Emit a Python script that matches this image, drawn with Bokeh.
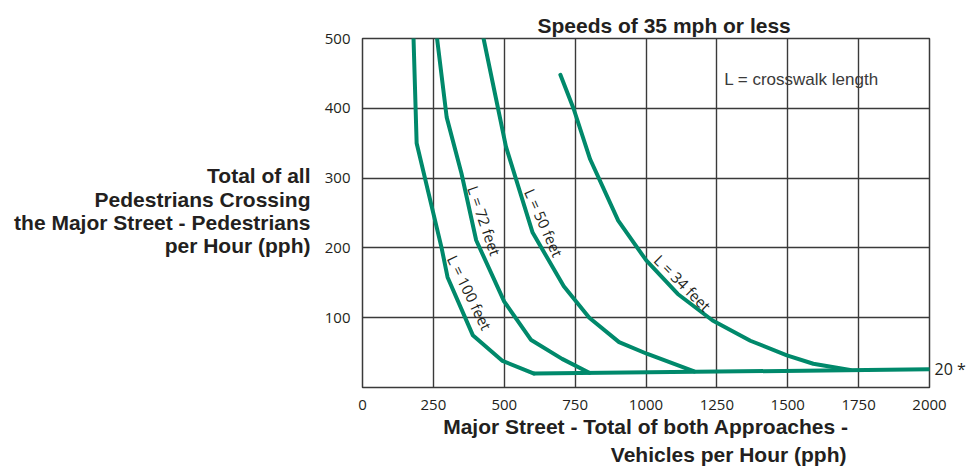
import math
from bokeh.plotting import figure
from bokeh.layouts import row
from bokeh.models import FixedTicker, Label, Title, LinearAxis, Range1d
from bokeh.core.properties import value
from bokeh.embed import file_html
from bokeh.resources import INLINE

# ---- data ----
x_ticks = [0, 250, 500, 750, 1000, 1250, 1500, 1750, 2000]
y_ticks = [100, 200, 300, 400, 500]

l100_x = [180, 191, 279, 300, 389, 494, 605]
l100_y = [500, 350, 200, 158, 75, 38, 20]

l72_x = [263, 297, 349, 401, 500, 595, 704, 800]
l72_y = [500, 387, 307, 211, 123, 68, 41, 21]

l50_x = [427, 506, 600, 710, 800, 905, 1005, 1170]
l50_y = [500, 345, 222, 145, 100, 65, 48, 23]

l34_x = [698, 745, 803, 902, 1001, 1112, 1235, 1368, 1497, 1590, 1720]
l34_y = [448, 399, 327, 239, 182, 134, 96, 67, 46, 34, 25]

floor_x = [605, 2000]
floor_y = [20, 26]

curve_names = ["L = 100 feet", "L = 72 feet", "L = 50 feet", "L = 34 feet"]
curve_label_x = [378, 430, 640, 1129]
curve_label_y = [136, 239, 236, 150]
curve_label_angle = [-64, -71, -66, -45]

title_text = "Speeds of 35 mph or less"
y_title_lines = ["Total of all", "Pedestrians Crossing",
                 "the Major Street - Pedestrians", "per Hour (pph)"]
x_title_lines = ["Major Street - Total of both Approaches -",
                 "Vehicles per Hour (pph)"]
note_text = "L = crosswalk length"
floor_text = "20 *"

GREEN = "#00896B"
GRID = "#3a3a3a"
TEXT = "#231f20"
H = 469
TOP, BOTTOM = 38, 82

# ---- left panel holding the horizontal y-axis title ----
LW = 320
left = figure(width=LW, height=H, x_range=Range1d(0, LW), y_range=Range1d(0, 500),
              output_backend="svg", toolbar_location=None,
              x_axis_location=None, y_axis_location=None,
              min_border_left=0, min_border_right=0,
              min_border_top=TOP, min_border_bottom=BOTTOM)
left.outline_line_color = None
left.grid.visible = False
left.text(x=[310] * len(y_title_lines), y=[304, 270, 237, 204],
          text=y_title_lines, text_align="right", text_baseline="alphabetic",
          text_font=value("Liberation Sans"), text_font_style="bold",
          text_font_size="21px", text_color=TEXT)

# ---- main chart ----
p = figure(width=968 - LW, height=H, x_range=(0, 2000), y_range=(0, 500),
           output_backend="svg", toolbar_location=None,
           min_border_left=362 - LW, min_border_right=34,
           min_border_top=TOP, min_border_bottom=BOTTOM)
p.background_fill_color = "white"
p.border_fill_color = "white"
p.outline_line_color = GRID
p.outline_line_width = 1.5

p.xaxis.ticker = FixedTicker(ticks=x_ticks)
p.yaxis.ticker = FixedTicker(ticks=y_ticks)

right_axis = LinearAxis(ticker=FixedTicker(ticks=[floor_y[-1]]),
                        major_label_overrides={floor_y[-1]: floor_text})
p.add_layout(right_axis, "right")

for ax in (p.xaxis[0], p.yaxis[0], right_axis):
    ax.axis_line_color = None
    ax.major_tick_line_color = None
    ax.minor_tick_line_color = None
    ax.major_tick_out = 0
    ax.major_tick_in = 0
    ax.major_label_text_font = "Open Sans"
    ax.major_label_text_font_size = "15px"
    ax.major_label_text_color = TEXT
p.xaxis[0].major_label_standoff = 12
p.yaxis[0].major_label_standoff = 12
right_axis.major_label_standoff = 5
right_axis.major_label_text_font_size = "16px"

# first line of the x-axis title (centred on the frame, as in the reference)
xa = p.xaxis[0]
xa.axis_label = x_title_lines[0]
xa.axis_label_standoff = 2
xa.axis_label_text_font = "Liberation Sans"
xa.axis_label_text_font_style = "bold"
xa.axis_label_text_font_size = "21px"
xa.axis_label_text_color = TEXT

p.xgrid.ticker = FixedTicker(ticks=x_ticks)
p.ygrid.ticker = FixedTicker(ticks=y_ticks)
for g in (p.xgrid, p.ygrid):
    g.grid_line_color = GRID
    g.grid_line_width = 1.4
    g.grid_line_alpha = 1.0

for xs, ys in [(floor_x, floor_y), (l100_x, l100_y), (l72_x, l72_y),
               (l50_x, l50_y), (l34_x, l34_y)]:
    p.line(xs, ys, line_color=GREEN, line_width=4, line_join="round",
           line_cap="round")

for name, lx, ly, ang in zip(curve_names, curve_label_x, curve_label_y,
                             curve_label_angle):
    p.add_layout(Label(x=lx, y=ly, text=name, angle=math.radians(ang),
                       text_font="Open Sans", text_font_size="15px",
                       text_color=TEXT, text_align="center",
                       text_baseline="middle"))

p.add_layout(Label(x=1276, y=441, text=note_text, text_font="Liberation Sans",
                   text_font_size="17px", text_color="#3a3a3a",
                   text_align="left", text_baseline="alphabetic"))

# title above the frame
p.add_layout(Title(text=title_text, align="left", offset=175, standoff=4,
                   text_font="Liberation Sans", text_font_style="bold",
                   text_font_size="21px", text_color=TEXT), "above")

# second line of the x-axis title, right aligned
p.add_layout(Title(text=x_title_lines[1], align="right", offset=83,
                   standoff=0, text_font="Liberation Sans",
                   text_font_style="bold", text_font_size="21px",
                   text_color=TEXT), "below")

layout = row(left, p, spacing=0)
open("out.html", "w").write(file_html(layout, INLINE))
